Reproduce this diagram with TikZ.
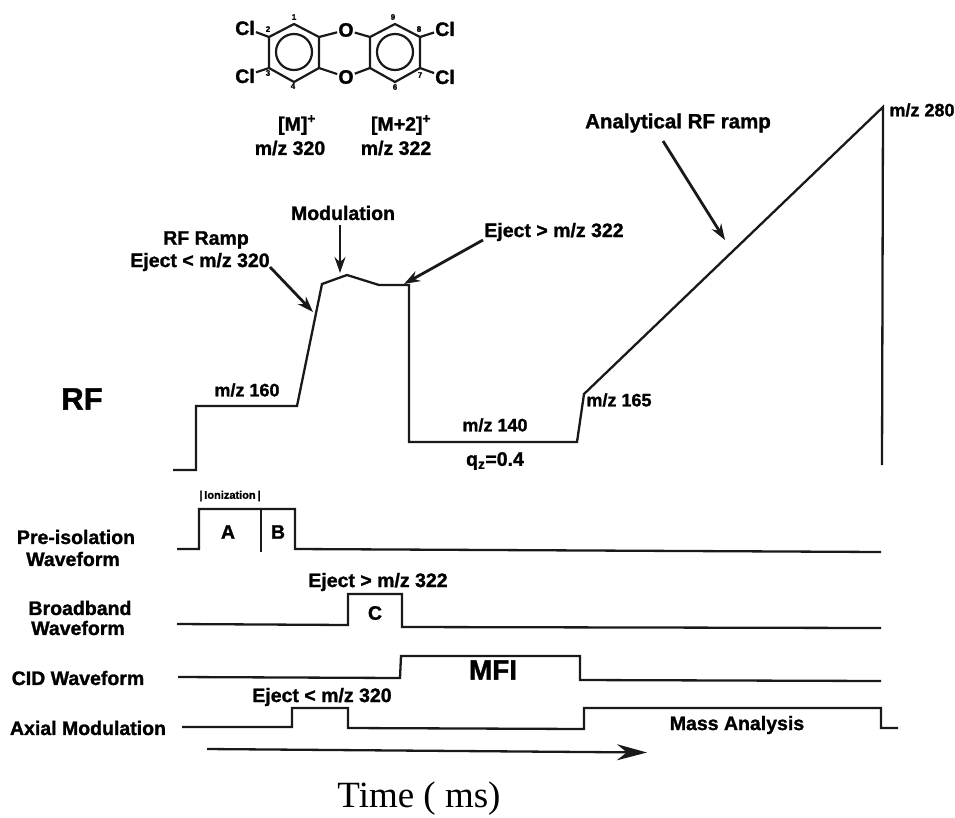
\documentclass[tikz,border=0pt]{standalone}
\usepackage{fontspec}
\setmainfont{Liberation Sans}
\newfontfamily\heavy[UprightFont=* Bold,FakeBold=1.3]{Liberation Sans}
\newfontfamily\timesf{Liberation Serif}
\usetikzlibrary{arrows.meta}
\tikzset{
  lab/.style={font=\fontsize{19.5}{22}\selectfont\heavy,inner sep=0pt,align=center},
  small/.style={font=\fontsize{18}{20}\selectfont\heavy,inner sep=0pt,align=center},
  tiny/.style={font=\fontsize{8}{8}\selectfont\heavy,inner sep=0pt},
  wave/.style={line width=2.3pt,line join=miter,black!90},
  bond/.style={line width=2.2pt,black!90},
  pointer/.style={line width=2.8pt,black!90,-{Stealth[length=16pt,width=11pt]}}
}
\begin{document}
\begin{tikzpicture}[x=1pt,y=-1pt]
\useasboundingbox (0,0) rectangle (955,817);
% molecule
\foreach \n/\cx in {l/294,r/395}{
  \coordinate (\n1) at (\cx,24);
  \coordinate (\n2) at (\cx+25,37);
  \coordinate (\n3) at (\cx+25,68);
  \coordinate (\n4) at (\cx,82);
  \coordinate (\n5) at (\cx-25,68);
  \coordinate (\n6) at (\cx-25,37);
  \draw[bond] (\n1)--(\n2)--(\n3)--(\n4)--(\n5)--(\n6)--cycle;
  \draw[bond] (\cx,52) circle (18);
}
\node[lab,inner sep=1pt] (ot) at (346,30) {O};
\node[lab,inner sep=1pt] (ob) at (346,77) {O};
\node[lab,inner sep=1pt] (cl1) at (245,28) {Cl};
\node[lab,inner sep=1pt] (cl2) at (245,76) {Cl};
\node[lab,inner sep=1pt] (cl3) at (445,29) {Cl};
\node[lab,inner sep=1pt] (cl4) at (445,77) {Cl};
\draw[bond] (l2)--(ot) (ot)--(r6) (l3)--(ob) (ob)--(r5);
\draw[bond] (l6)--(cl1) (l5)--(cl2) (r2)--(cl3) (r3)--(cl4);
\node[tiny] (n1) at (294,17) {1};
\node[tiny] (n2) at (268,29) {2};
\node[tiny] (n3) at (268,73) {3};
\node[tiny] (n4) at (293,86) {4};
\node[tiny] (n6) at (395,87) {6};
\node[tiny] (n7) at (420,75) {7};
\node[tiny] (n8) at (419,29) {8};
\node[tiny] (n9) at (393,17) {9};
\node[lab] (mp) at (297,125) {[M]\textsuperscript{+}};
\node[lab] (m2p) at (401,125) {[M+2]\textsuperscript{+}};
\node[lab] (m320) at (290,148) {m/z 320};
\node[lab] (m322) at (396,148) {m/z 322};
% RF trace
\coordinate (r0) at (173,470);
\coordinate (ra) at (196,470);
\coordinate (rb) at (196,406);
\coordinate (rc) at (297,406);
\coordinate (rd) at (322,284);
\coordinate (re) at (347,275);
\coordinate (rf) at (379,285);
\coordinate (rg) at (409,285);
\coordinate (rh) at (409,442);
\coordinate (ri) at (577,442);
\coordinate (rj) at (584,394);
\coordinate (rk) at (883,107);
\coordinate (rl) at (882,465);
\draw[wave] (r0)--(ra)--(rb)--(rc)--(rd)--(re)--(rf)--(rg)--(rh)--(ri)--(rj)--(rk)--(rl);
% RF annotations
\node[font=\fontsize{31}{33}\selectfont\heavy,inner sep=0pt] (rflab) at (82,399) {RF};
\node[small] (m280) at (922,110) {m/z 280};
\node[font=\fontsize{20.5}{22}\selectfont\heavy,inner sep=0pt] (anal) at (678,123) {Analytical RF ramp};
\coordinate (analt) at (725,240);
\draw[pointer] (663,141)--(analt);
\node[lab] (mod) at (343,213) {Modulation};
\coordinate (modt) at (340,273);
\draw[pointer] (340,225)--(modt);
\node[lab] (ramp) at (206,240) {RF Ramp};
\node[lab] (ejl) at (200,262) {Eject < m/z 320};
\coordinate (rampt) at (313,312);
\draw[pointer] (270,267)--(rampt);
\node[lab] (ejg) at (554,232) {Eject > m/z 322};
\coordinate (ejgt) at (404,284);
\draw[pointer] (483,240)--(ejgt);
\node[small] (m160) at (247,390) {m/z 160};
\node[small] (m140) at (495,425) {m/z 140};
\node[lab] (qz) at (495,461) {q\textsubscript{z}=0.4};
\node[small] (m165) at (619,400) {m/z 165};
% waveforms
\draw[wave] (177,549)--(199,549)--(199,509)--(295,509)--(295,549)--(881,552);
\draw[wave] (261,509)--(261,552);
\node[font=\fontsize{11}{12}\selectfont\heavy,inner sep=0pt] (ion) at (230,496) {|\,Ionization\,|};
\node[lab] (A) at (228,532) {A};
\node[lab] (B) at (278,532) {B};
\node[lab] (pre1) at (76,537) {Pre-isolation};
\node[lab] (pre2) at (73,559) {Waveform};
\draw[wave] (177,624)--(348,625)--(348,594)--(402,594)--(402,627)--(881,628);
\node[lab] (C) at (375,613) {C};
\node[lab] (ej2) at (378,582) {Eject > m/z 322};
\node[lab] (bb1) at (80,608) {Broadband};
\node[lab] (bb2) at (78,628) {Waveform};
\draw[wave] (178,677)--(400,678)--(401,656)--(580,656)--(580,680)--(881,681);
\node[font=\fontsize{28}{30}\selectfont\heavy,inner sep=0pt] (mfi) at (493,670) {MFI};
\node[lab] (cid) at (78,678) {CID Waveform};
\draw[wave] (182,727)--(292,727)--(292,708)--(348,708)--(348,728)--(584,729)--(584,708)--(881,708)--(881,728)--(898,728);
\node[lab] (ej3) at (322,697) {Eject < m/z 320};
\node[lab] (ax) at (88,728) {Axial Modulation};
\node[lab] (ma) at (737,725) {Mass Analysis};
% time
\coordinate (t0) at (207,749);
\coordinate (t1) at (647,752.5);
\draw[line width=2.3pt,black!90,-{Stealth[length=30pt,width=16pt]}] (t0)--(t1);
\node[font=\fontsize{37}{39}\selectfont\timesf,inner sep=0pt,anchor=base] (time) at (419,807) {Time ( ms)};
\end{tikzpicture}
\end{document}
